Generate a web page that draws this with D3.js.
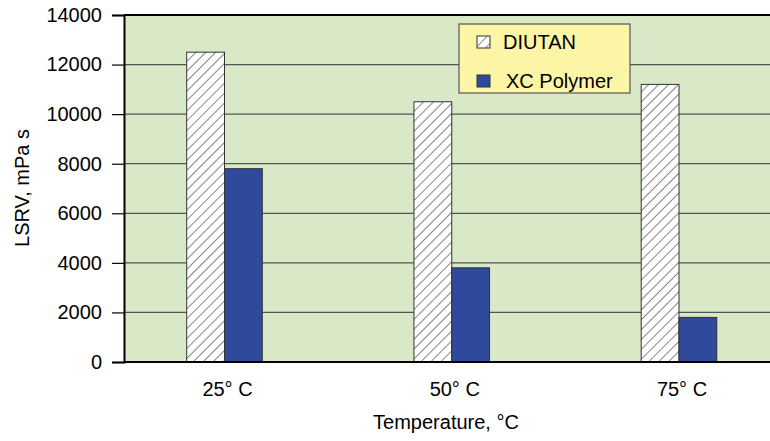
<!DOCTYPE html>
<html><head><meta charset="utf-8">
<script src="https://cdn.jsdelivr.net/npm/d3@7"></script>
<style>body{margin:0;background:#fff}svg{display:block;font-family:"Liberation Sans",Arial,sans-serif}</style>
</head><body><svg id="c" width="770" height="441"></svg>
<script>
const categories = ["25° C", "50° C", "75° C"];
const seriesNames = ["DIUTAN", "XC Polymer"];
const diutan = [12500, 10500, 11200];
const xcPolymer = [7800, 3800, 1800];
const yTicks = [0, 2000, 4000, 6000, 8000, 10000, 12000, 14000];

(function () {
const svg = d3.select("#c");
const pLeft = 124, pRight = 770, pTop = 15, pBottom = 362;

const defs = svg.append("defs");
const pat = defs.append("pattern").attr("id", "hatch").attr("patternUnits", "userSpaceOnUse")
  .attr("width", 7).attr("height", 7).attr("patternTransform", "rotate(45)");
pat.append("rect").attr("width", 7).attr("height", 7).attr("fill", "#fff");
pat.append("line").attr("x1", 0).attr("y1", 0).attr("x2", 0).attr("y2", 7)
  .attr("stroke", "#444").attr("stroke-width", 1.3);

const y = d3.scaleLinear().domain([0, 14000]).range([pBottom, pTop]);
const x = d3.scalePoint().domain(categories).range([224.5, 679]);
const barW = 37.8;
const xs = d3.scaleBand().domain(seriesNames).range([-barW, barW]).padding(0);

svg.append("rect").attr("x", pLeft).attr("y", pTop).attr("width", pRight - pLeft).attr("height", pBottom - pTop).attr("fill", "#d9e8c6");

svg.append("g").selectAll("line").data(yTicks.filter(d => d > 0 && d < 14000)).join("line")
  .attr("x1", pLeft).attr("x2", pRight).attr("y1", d => y(d)).attr("y2", d => y(d))
  .attr("stroke", "#555").attr("stroke-width", 1.2);
svg.append("line").attr("x1", pLeft).attr("x2", pRight).attr("y1", y(14000)).attr("y2", y(14000))
  .attr("stroke", "#000").attr("stroke-width", 2);

const fills = ["url(#hatch)", "#2f4a9b"];
const series = [diutan, xcPolymer];
series.forEach((vals, si) => {
  svg.append("g").selectAll("rect").data(vals).join("rect")
    .attr("x", (d, i) => x(categories[i]) + xs(seriesNames[si]))
    .attr("y", d => y(d))
    .attr("width", xs.bandwidth())
    .attr("height", d => y(0) - y(d))
    .attr("fill", fills[si])
    .attr("stroke", "#333").attr("stroke-width", 1);
});

const yAxis = d3.axisLeft(y).tickValues(yTicks).tickSize(12).tickPadding(10).tickFormat(d3.format("d"));
const ga = svg.append("g").attr("transform", `translate(${pLeft},0)`).call(yAxis);
ga.select(".domain").attr("stroke", "#000").attr("stroke-width", 2);
ga.selectAll(".tick line").attr("stroke", "#000").attr("stroke-width", 1.2);
ga.selectAll("text").attr("font-size", 20).attr("fill", "#000").attr("font-family", "Liberation Sans, Arial, sans-serif");

svg.append("line").attr("x1", pLeft).attr("x2", pRight).attr("y1", pBottom).attr("y2", pBottom).attr("stroke", "#000").attr("stroke-width", 2);

svg.append("g").selectAll("text").data(categories).join("text")
  .attr("x", d => x(d) + 3).attr("y", 396).attr("text-anchor", "middle")
  .attr("font-size", 20).attr("fill", "#000").text(d => d);

svg.append("text").attr("x", 446).attr("y", 429).attr("text-anchor", "middle")
  .attr("font-size", 20).attr("fill", "#000").text("Temperature, °C");
svg.append("text").attr("transform", "translate(29,188) rotate(-90)").attr("text-anchor", "middle")
  .attr("font-size", 20).attr("fill", "#000").text("LSRV, mPa s");

const lg = svg.append("g").attr("transform", "translate(459,24)");
lg.append("rect").attr("width", 171).attr("height", 69).attr("fill", "#fcf5a6").attr("stroke", "#555").attr("stroke-width", 1.2);
const items = lg.selectAll("g").data(seriesNames).join("g").attr("transform", (d, i) => `translate(18,${12 + i * 39})`);
items.append("rect").attr("width", 13).attr("height", 12).attr("fill", (d, i) => fills[i]).attr("stroke", "#333").attr("stroke-width", 1);
items.append("text").attr("x", (d, i) => i === 0 ? 26 : 29).attr("y", 12.5).attr("font-size", 20).attr("fill", "#000").text(d => d);
})();
</script></body></html>
